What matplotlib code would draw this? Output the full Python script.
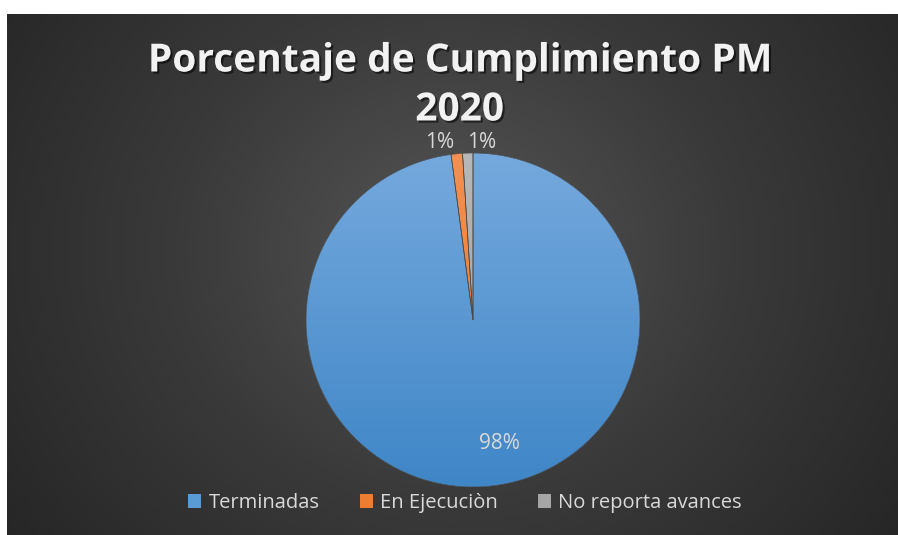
import numpy as np
import matplotlib
matplotlib.use("Agg")
import matplotlib.pyplot as plt
import matplotlib.patheffects as pe
from matplotlib.colors import LinearSegmentedColormap
from matplotlib.patches import Wedge, Patch

# ---- data ----
categories = ["Terminadas", "En Ejecuciòn", "No reporta avances"]
values = [97.9, 1.1, 1.0]
pct_labels = ["98%", "1%", "1%"]
colors = ["#5B9BD5", "#ED7D31", "#A5A5A5"]
title = "Porcentaje de Cumplimiento PM\n2020"

W, H = 898, 535
fig = plt.figure(figsize=(W / 100, H / 100), dpi=100, facecolor="white")

# ---- background panel with radial gradient ----
bg = fig.add_axes([7 / W, 0, (W - 7) / W, (H - 14) / H])
bg.set_axis_off()
ny, nx = 260, 445
yy, xx = np.mgrid[0:ny, 0:nx]
cx, cy = nx * 0.5, ny * 0.45
d = np.sqrt(((xx - cx) / (nx * 0.62)) ** 2 + ((yy - cy) / (ny * 0.95)) ** 2)
d = np.clip(d, 0, 1)
bgcmap = LinearSegmentedColormap.from_list("bg", ["#555555", "#3a3a3a", "#262626"])
bg.imshow(d, cmap=bgcmap, aspect="auto", extent=[0, 1, 0, 1], vmin=0, vmax=1)
bg.set_xlim(0, 1)
bg.set_ylim(0, 1)

# ---- pie ----
r_px = 167
pcx, pcy = 473, H - 320
ax = fig.add_axes([(pcx - r_px) / W, (pcy - r_px) / H, 2 * r_px / W, 2 * r_px / H])
ax.set_axis_off()
wedges, _ = ax.pie(values, colors=colors, startangle=90, counterclock=False,
                   radius=1.0, wedgeprops=dict(edgecolor="none", linewidth=0))
ax.set_xlim(-1, 1)
ax.set_ylim(-1, 1)

grad = np.linspace(0, 1, 256).reshape(-1, 1)
grad_cmaps = [
    LinearSegmentedColormap.from_list("g0", ["#75a9dd", "#3f86c7"]),
    LinearSegmentedColormap.from_list("g1", ["#f29154", "#e8741f"]),
    LinearSegmentedColormap.from_list("g2", ["#b8b8b8", "#9a9a9a"]),
]
for w, cm in zip(wedges, grad_cmaps):
    im = ax.imshow(grad, cmap=cm, extent=[-1, 1, -1, 1], aspect="auto",
                   origin="upper", zorder=w.get_zorder() + 0.1)
    im.set_clip_path(w)
for w in wedges:
    ax.add_patch(Wedge(w.center, w.r, w.theta1, w.theta2, facecolor="none",
                       edgecolor="#4a4a4a", linewidth=0.5, zorder=5))
ax.set_xlim(-1, 1)
ax.set_ylim(-1, 1)

label_pos = [(0.16, -0.74), (-0.2, 1.065), (0.054, 1.065)]
for (lx, ly), t in zip(label_pos, pct_labels):
    ax.text(lx, ly, t, ha="center", va="center", fontsize=15,
            color="#d9d9d9", family="Open Sans", clip_on=False, zorder=10)

# ---- title ----
for i, line in enumerate(title.split("\n")):
    fig.text(459.5 / W, 1 - (61 + 49 * i) / H, line, ha="center", va="center",
             fontsize=28, fontweight="bold", color="#f2f2f2", family="Open Sans",
             path_effects=[pe.SimplePatchShadow(offset=(1.5, -1.5),
                                               shadow_rgbFace="black", alpha=0.55),
                           pe.Normal()])

# ---- legend ----
handles = [Patch(facecolor=c, edgecolor="none") for c in colors]
leg = fig.legend(handles, categories, loc="center", bbox_to_anchor=(465 / W, 1 - 503 / H),
                 ncol=3, frameon=False, handlelength=0.65, handleheight=0.65,
                 handletextpad=0.35, columnspacing=2.0,
                 prop={"family": "Open Sans", "size": 14.5})
for t in leg.get_texts():
    t.set_color("#d9d9d9")

fig.savefig("out.png", dpi=100, facecolor=fig.get_facecolor())
